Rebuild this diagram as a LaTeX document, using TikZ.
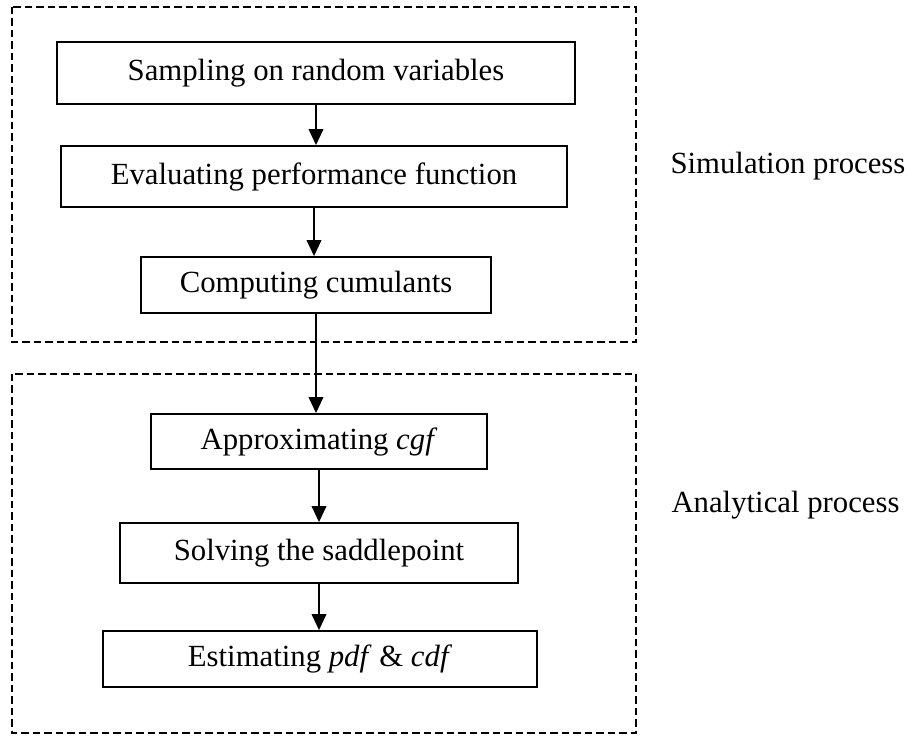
\documentclass[tikz,border=0pt]{standalone}
\usepackage{fontspec}
\setmainfont{Liberation Serif}
\usetikzlibrary{arrows.meta}

\tikzset{
	stage/.style={draw, line width=0.7pt, inner sep=2pt, font=\fontsize{12.3}{14}\selectfont},
	flow/.style={-{Triangle[length=6.4pt,width=5.8pt]}, line width=0.8pt},
	phase/.style={line width=0.5pt, dash pattern=on 3pt off 1.6pt},
	phaselabel/.style={anchor=base west, inner sep=0pt, font=\fontsize{12.3}{14}\selectfont}
}

\begin{document}
\begin{tikzpicture}[x=0.4pt,y=-0.4pt]
		\useasboundingbox (0,0) rectangle (917,737);
		% the two process frames
		\draw[phase] (12,7) rectangle (636,342);
		\draw[phase] (12,374) rectangle (636,733);
		% simulation steps
		\node[stage, minimum width=207.2pt, minimum height=24.8pt] (sample) at (316,73) {Sampling on random variables};
		\node[stage, minimum width=202.4pt, minimum height=24.4pt] (evaluate) at (314,176.5) {Evaluating performance function};
		\node[stage, minimum width=140pt, minimum height=22.4pt] (cumulant) at (316,285) {Computing cumulants};
		% analytical steps
		\node[stage, minimum width=134.4pt, minimum height=22pt] (cgf) at (319,441.5) {Approximating \textit{cgf}};
		\node[stage, minimum width=159.2pt, minimum height=24pt] (saddle) at (319,553) {Solving the saddlepoint};
		\node[stage, minimum width=173.6pt, minimum height=22.4pt] (estimate) at (320,659) {Estimating \textit{pdf} \& \textit{cdf}};
		\draw[flow] (sample.south) -- (sample.south |- evaluate.north);
		\draw[flow] (evaluate.south) -- (evaluate.south |- cumulant.north);
		\draw[flow] (cumulant.south) -- (cumulant.south |- cgf.north);
		\draw[flow] (cgf.south) -- (cgf.south |- saddle.north);
		\draw[flow] (saddle.south) -- (saddle.south |- estimate.north);
		\node[phaselabel] (simlabel) at (670,174) {Simulation process};
		\node[phaselabel] (analabel) at (671,512) {Analytical process};
	\end{tikzpicture}
\end{document}
